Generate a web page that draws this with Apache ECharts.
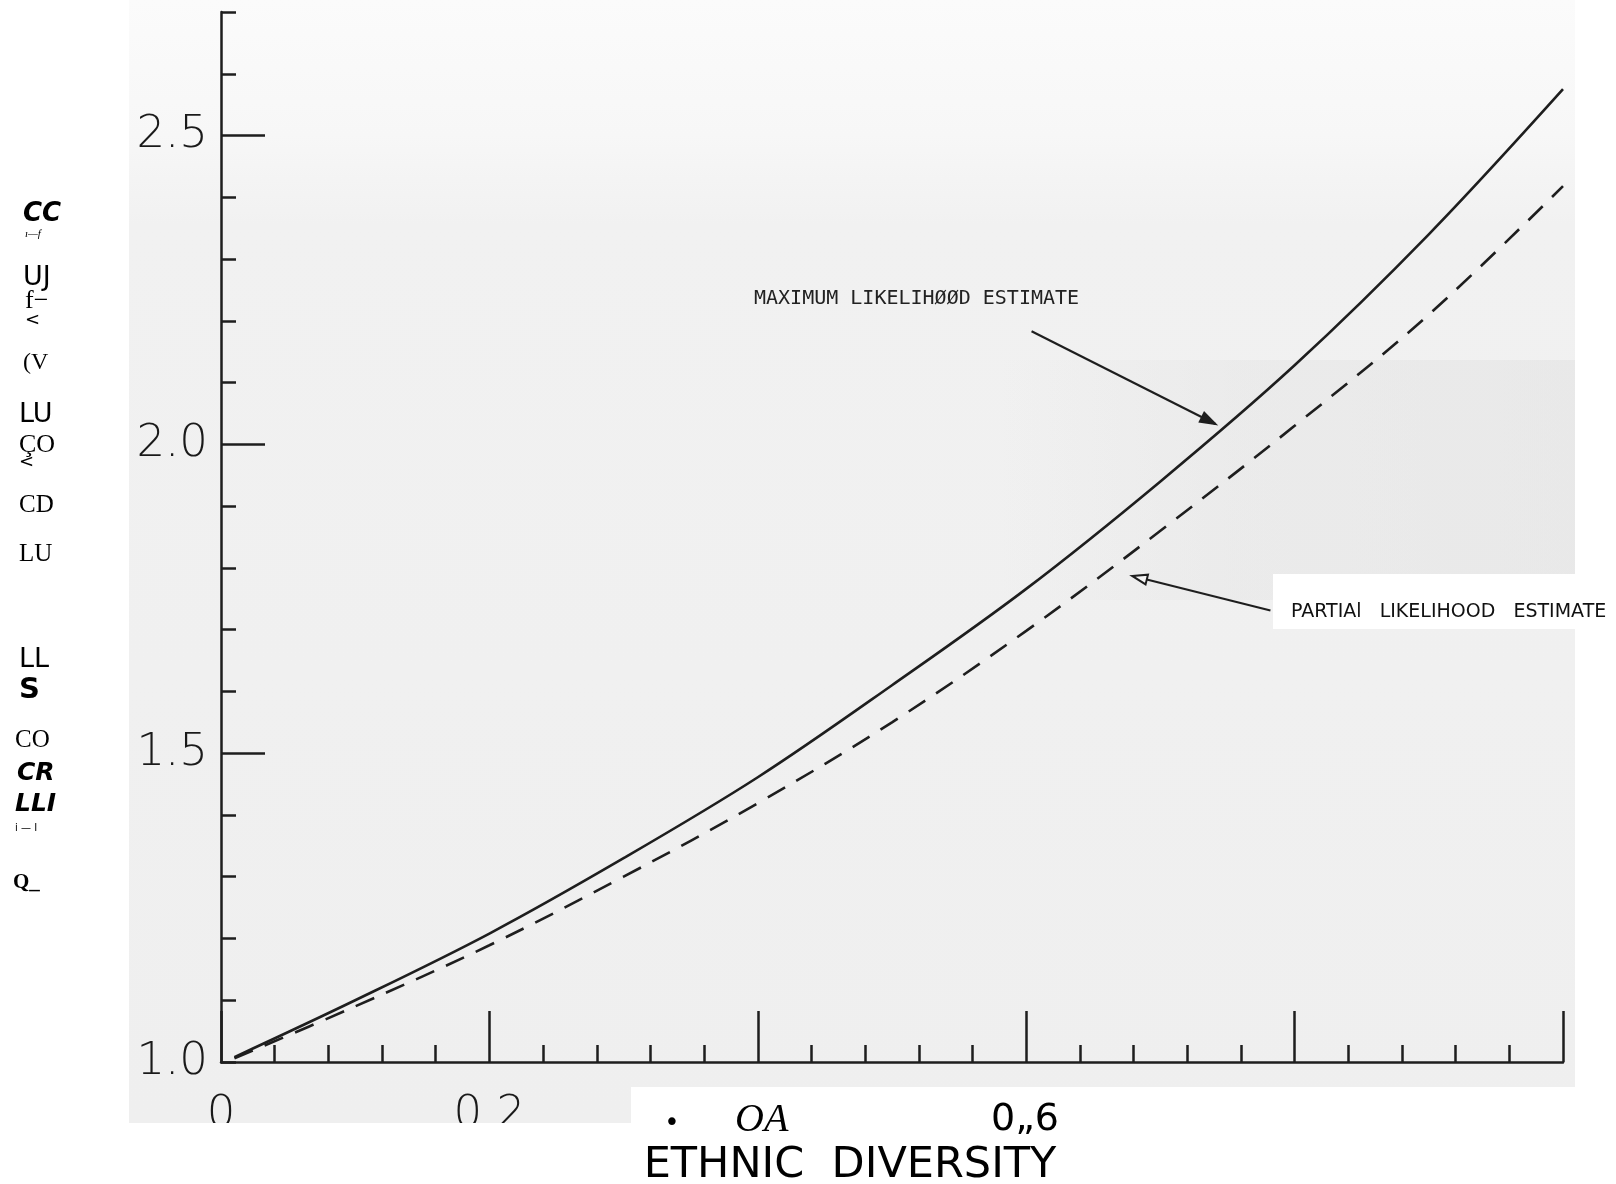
<!DOCTYPE html>
<html><head><meta charset="utf-8">
<script src="https://cdn.jsdelivr.net/npm/echarts@6/dist/echarts.min.js"></script>
<style>html,body{margin:0;padding:0;background:#fff}#c{width:1616px;height:1184px}</style>
</head><body><div id="c"></div>
<script>
// ---- data ----
const diversity = [0.01, 0.1, 0.2, 0.3, 0.4, 0.5, 0.6, 0.7, 0.8, 0.9, 1.0];
const maxLikelihood = [1.008, 1.10, 1.208, 1.33, 1.461, 1.61, 1.766, 1.94, 2.128, 2.34, 2.575];
const partialLikelihood = [1.006, 1.09, 1.189, 1.30, 1.419, 1.55, 1.698, 1.86, 2.03, 2.21, 2.418];
const yTickLabels = ['1.0', '1.5', '2.0', '2.5'];
const yTickValues = [1.0, 1.5, 2.0, 2.5];
const xTickLabels = ['0', '0.2', '0.4', '0.6', '0.8', '1.0'];
const mleLabel = 'MAXIMUM LIKELIHØØD ESTIMATE';
const pleLabel = 'PARTIAl   LIKELIHOOD   ESTIMATE';
const xTitle = 'ETHNIC  DIVERSITY';
const xStrayLabels = ['•', 'OA', '0„6'];
const sideTexts = ['CC', 'ı—f', 'UJ', 'f−', '<', '(V', 'LU', 'ÇO', '<', 'CD', 'LU', 'LL', 'S', 'CO', 'CR', 'LLI', 'i — I', 'Q_'];

const chart = echarts.init(document.getElementById('c'), null, {renderer: 'canvas'});
const ink = '#1e1e1e';
const sans = "'DejaVu Sans', sans-serif";
const serif = "'Liberation Serif', 'DejaVu Serif', serif";

const option = {
  backgroundColor: '#ffffff',
  animation: false,
  grid: {left: 221, right: 53, top: 12, bottom: 122, containLabel: false},
  xAxis: {
    type: 'value', min: 0, max: 1, interval: 0.2,
    axisLine: {show: true, onZero: false, lineStyle: {color: ink, width: 2.5}},
    axisTick: {show: true, inside: true, length: 51, lineStyle: {color: ink, width: 2.5}},
    minorTick: {show: true, splitNumber: 5, length: 17, lineStyle: {color: ink, width: 2.5}},
    splitLine: {show: false}, minorSplitLine: {show: false},
    axisLabel: {
      margin: 31, fontSize: 45, fontFamily: sans, fontWeight: 200, color: '#1a1a1a',
      formatter: v => xTickLabels[Math.round(v / 0.2)]
    }
  },
  yAxis: [{
    type: 'value', min: 1.0, max: 2.7, interval: 0.5, position: 'left',
    axisLine: {show: true, onZero: false, lineStyle: {color: ink, width: 2.5}},
    axisTick: {show: true, inside: true, length: 44, customValues: [1.5, 2.0, 2.5], lineStyle: {color: ink, width: 2.5}},
    splitLine: {show: false},
    axisLabel: {
      margin: 13, fontSize: 45, fontFamily: sans, fontWeight: 200, color: '#1a1a1a',
      customValues: yTickValues,
      formatter: v => yTickLabels[Math.round((v - 1) / 0.5)]
    }
  }, {
    type: 'value', min: 1.0, max: 2.7, interval: 0.1, position: 'left', offset: 0,
    axisLine: {show: false},
    axisTick: {show: true, inside: true, length: 15, lineStyle: {color: ink, width: 2.5}},
    splitLine: {show: false},
    axisLabel: {show: false}
  }],
  series: [{
    name: 'MLE', type: 'line', smooth: 0.35, symbol: 'none', clip: false, z: 5,
    data: diversity.map((x, i) => [x, maxLikelihood[i]]),
    lineStyle: {color: ink, width: 2.6}
  }, {
    name: 'PLE', type: 'line', smooth: 0.35, symbol: 'none', clip: false, z: 5,
    data: diversity.map((x, i) => [x, partialLikelihood[i]]),
    lineStyle: {color: ink, width: 2.6, type: [20, 13]}
  }]
};
chart.setOption(option);

const P = d => chart.convertToPixel({gridIndex: 0}, d);
function arrow(fromD, toD, hollow) {
  const a = P(fromD), b = P(toD);
  const dx = b[0] - a[0], dy = b[1] - a[1], len = Math.hypot(dx, dy);
  const ux = dx / len, uy = dy / len, L = 15, W = 5;
  const bx = b[0] - ux * L, by = b[1] - uy * L;
  return [
    {type: 'line', z: 50, shape: {x1: a[0], y1: a[1], x2: hollow ? bx : b[0], y2: hollow ? by : b[1]}, style: {stroke: ink, lineWidth: 2.2}},
    {type: 'polygon', z: 50, shape: {points: [[b[0], b[1]], [bx - uy * W, by + ux * W], [bx + uy * W, by - ux * W]]},
     style: {fill: hollow ? '#f4f4f4' : ink, stroke: ink, lineWidth: 2}}
  ];
}

const sidePos = [
  [23, 214, 26, 'bold', 'italic', sans], [25, 234, 11, 'normal', 'italic', serif],
  [23, 278, 27, 'normal', 'normal', sans], [25, 301, 26, 'normal', 'normal', serif],
  [25, 320, 18, 'normal', 'normal', sans], [23, 363, 24, 'normal', 'normal', serif],
  [19, 415, 27, 'normal', 'normal', sans], [19, 445, 26, 'normal', 'normal', serif],
  [19, 462, 18, 'normal', 'normal', sans], [19, 505, 25, 'normal', 'normal', serif],
  [19, 554, 25, 'normal', 'normal', serif], [19, 660, 27, 'normal', 'normal', sans],
  [19, 690, 29, 'bold', 'normal', sans], [15, 740, 25, 'normal', 'normal', serif],
  [17, 773, 25, 'bold', 'italic', sans], [15, 804, 25, 'bold', 'italic', sans],
  [15, 828, 10, 'normal', 'normal', sans], [13, 883, 21, 'bold', 'normal', serif]
];

const graphics = [
  // scanned paper background
  {type: 'rect', z: -10, shape: {x: 129, y: 0, width: 1446, height: 1123},
   style: {fill: new echarts.graphic.LinearGradient(0, 0, 0, 1, [
     {offset: 0, color: '#fbfbfb'}, {offset: 0.12, color: '#f7f7f7'}, {offset: 0.2, color: '#f1f1f1'}, {offset: 1, color: '#efefef'}])}},
  {type: 'rect', z: -9, shape: {x: 1000, y: 360, width: 575, height: 240},
   style: {fill: new echarts.graphic.LinearGradient(0, 0, 1, 0, [
     {offset: 0, color: 'rgba(225,225,225,0)'}, {offset: 0.4, color: 'rgba(225,225,225,0.35)'}, {offset: 1, color: 'rgba(225,225,225,0.5)'}])}},
  // white patches of the scan
  {type: 'rect', z: 60, shape: {x: 0, y: 1123, width: 1616, height: 61}, style: {fill: '#fff'}},
  {type: 'rect', z: 60, shape: {x: 631, y: 1087, width: 985, height: 97}, style: {fill: '#fff'}},
  {type: 'rect', z: 60, shape: {x: 1575, y: 0, width: 41, height: 1123}, style: {fill: '#fff'}},
  {type: 'rect', z: 60, shape: {x: 1273, y: 574, width: 343, height: 55}, style: {fill: '#fff'}},
  // annotations
  {type: 'text', z: 70, style: {text: mleLabel, x: 754, y: 299, fontSize: 20, fontFamily: "'DejaVu Sans Mono', monospace", fill: '#222', verticalAlign: 'middle'}},
  {type: 'text', z: 70, style: {text: pleLabel, x: 1291, y: 612, fontSize: 19, fontFamily: sans, fill: '#111', verticalAlign: 'middle'}},
  ...arrow([0.604, 2.183], [0.741, 2.033], false),
  ...arrow([0.782, 1.731], [0.679, 1.787], true),
  // bottom texts
  {type: 'text', z: 70, style: {text: xStrayLabels[0], x: 672, y: 1124, fontSize: 26, fontFamily: sans, fill: '#000', align: 'center', verticalAlign: 'middle'}},
  {type: 'text', z: 70, style: {text: xStrayLabels[1], x: 735, y: 1120, fontSize: 40, fontFamily: serif, fontStyle: 'italic', fill: '#000', verticalAlign: 'middle'}},
  {type: 'text', z: 70, style: {text: xStrayLabels[2], x: 991, y: 1120, fontSize: 38, fontFamily: sans, fill: '#000', verticalAlign: 'middle'}},
  {type: 'text', z: 70, style: {text: xTitle, x: 850, y: 1166, fontSize: 43, fontFamily: sans, fill: '#000', align: 'center', verticalAlign: 'middle'}}
];
sideTexts.forEach((t, i) => {
  const p = sidePos[i];
  graphics.push({type: 'text', z: 70, style: {text: t, x: p[0], y: p[1], fontSize: p[2], fontWeight: p[3], fontStyle: p[4], fontFamily: p[5], fill: '#000', verticalAlign: 'middle'}});
});
chart.setOption({graphic: {elements: graphics}});
</script></body></html>
